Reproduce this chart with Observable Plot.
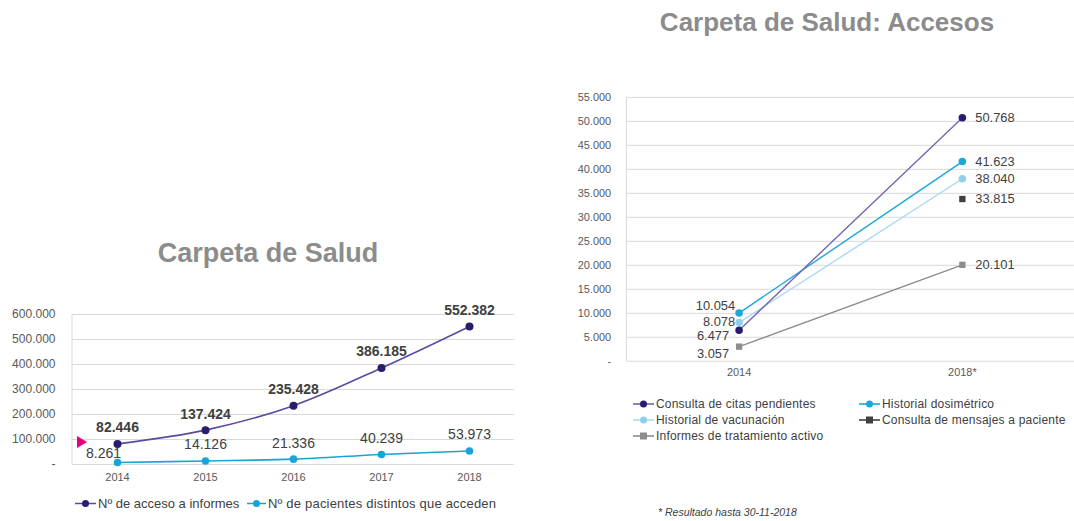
<!DOCTYPE html>
<html>
<head>
<meta charset="utf-8">
<script src="https://cdn.jsdelivr.net/npm/d3@7"></script>
<script src="https://cdn.jsdelivr.net/npm/@observablehq/plot@0.6"></script>
<style>
  html, body { margin: 0; padding: 0; background: #fff; }
  #page { position: relative; width: 1074px; height: 521px; overflow: hidden; font-family: "Liberation Sans", Arial, sans-serif; background: #fff; }
  .title { position: absolute; font-weight: bold; color: #8c8c8c; white-space: nowrap; transform: translate(-50%, -50%); }
  .chart { position: absolute; }
  .legend-item { position: absolute; display: flex; align-items: center; white-space: nowrap; color: #404040; transform: translateY(-50%); }
  .legend-item svg { display: block; margin-right: 2px; }
  #foot { position: absolute; left: 658px; top: 512px; transform: translateY(-50%); font-style: italic; font-size: 10.5px; color: #404040; white-space: nowrap; }
  #pink { position: absolute; left: 77px; top: 436px; width: 0; height: 0; border-top: 6px solid transparent; border-bottom: 6px solid transparent; border-left: 10px solid #e6007e; }
</style>
</head>
<body>
<div id="page">
  <div class="title" style="left:268px; top:253px; font-size:27px;">Carpeta de Salud</div>
  <div class="title" style="left:827px; top:22px; font-size:26px;">Carpeta de Salud: Accesos</div>
  <div id="left" class="chart" style="left:0px; top:300px;"></div>
  <div id="right" class="chart" style="left:560px; top:80px;"></div>
  <div id="pink"></div>
  <div id="legendLeft"></div>
  <div id="legendRight"></div>
  <div id="foot">* Resultado hasta 30-11-2018</div>
</div>
<script>
// ---------- DATA ----------
// Left chart: Carpeta de Salud
const years = ["2014", "2015", "2016", "2017", "2018"];
const accesosInformes = [82446, 137424, 235428, 386185, 552382];
const pacientesDistintos = [8261, 14126, 21336, 40239, 53973];
const leftSeriesNames = ["Nº de acceso a informes", "Nº de pacientes distintos que acceden"];
const leftYTicks = [0, 100000, 200000, 300000, 400000, 500000, 600000];

// Right chart: Carpeta de Salud: Accesos
const periods = ["2014", "2018*"];
const citasPendientes = [6477, 50768];
const historialDosimetrico = [10054, 41623];
const historialVacunacion = [8078, 38040];
const mensajesPaciente = [null, 33815];
const tratamientoActivo = [3057, 20101];
const rightSeriesNames = ["Consulta de citas pendientes", "Historial dosimétrico", "Historial de vacunación", "Consulta de mensajes a paciente", "Informes de tratamiento activo"];
const rightYTicks = [0, 5000, 10000, 15000, 20000, 25000, 30000, 35000, 40000, 45000, 50000, 55000];

// ---------- HELPERS ----------
const locale = d3.formatLocale({decimal: ",", thousands: ".", grouping: [3], currency: ["", ""]});
const fmt = locale.format(",d");
const tickFmt = d => d === 0 ? "-" : fmt(d);
const rows = (cats, vals) => cats.map((c, i) => ({cat: c, value: vals[i], idx: i})).filter(d => d.value != null);

const FONT = "'Liberation Sans', Arial, sans-serif";
const GRID = "#d9d9d9";

function leftRule() {
  return (index, scales, values, dims) => {
    const l = d3.create("svg:line")
      .attr("x1", dims.marginLeft).attr("x2", dims.marginLeft)
      .attr("y1", dims.marginTop).attr("y2", dims.height - dims.marginBottom)
      .attr("stroke", GRID);
    return l.node();
  };
}

// ---------- LEFT CHART ----------
const informes = rows(years, accesosInformes);
const pacientes = rows(years, pacientesDistintos);
const cPurpleLine = "#5b4b9f", cPurpleDot = "#2a1b6c", cCyan = "#1aa3d6";

const left = Plot.plot({
  width: 540, height: 190,
  marginTop: 14, marginBottom: 26, marginLeft: 72, marginRight: 26,
  x: {type: "point", domain: years, padding: 0.5, label: null},
  y: {domain: [0, 600000], label: null},
  style: {fontFamily: FONT, fontSize: "11px", color: "#595959", background: "transparent", overflow: "visible"},
  marks: [
    Plot.gridY(leftYTicks, {stroke: GRID, strokeOpacity: 1}),
    leftRule(),
    Plot.axisY(leftYTicks, {tickFormat: tickFmt, tickSize: 0, tickPadding: 17, fontSize: 12, fill: "#595959"}),
    Plot.axisX({tickSize: 0, tickPadding: 9, fontSize: 11, fill: "#595959"}),
    Plot.line(pacientes, {x: "cat", y: "value", stroke: cCyan, strokeWidth: 1.6, curve: "catmull-rom"}),
    Plot.dot(pacientes, {x: "cat", y: "value", r: 3.8, fill: cCyan}),
    Plot.line(informes, {x: "cat", y: "value", stroke: cPurpleLine, strokeWidth: 1.6, curve: "catmull-rom"}),
    Plot.dot(informes, {x: "cat", y: "value", r: 4, fill: cPurpleDot}),
    Plot.text(informes, {x: "cat", y: "value", text: d => fmt(d.value), dy: -16, fontSize: 14, fontWeight: "bold", fill: "#404040"}),
    Plot.text(pacientes, {filter: d => d.idx > 0, x: "cat", y: "value", text: d => fmt(d.value), dy: -16, fontSize: 14, fill: "#404040"}),
    Plot.text(pacientes, {filter: d => d.idx === 0, x: "cat", y: "value", text: d => fmt(d.value), dy: -9, dx: -14, fontSize: 14, fill: "#404040"})
  ]
});
document.getElementById("left").appendChild(left);

// ---------- RIGHT CHART ----------
const series = [
  {name: rightSeriesNames[4], data: rows(periods, tratamientoActivo), line: "#8c8c8c", dot: "#8c8c8c", symbol: "square", dy2014: 7, dx2014: -10},
  {name: rightSeriesNames[3], data: rows(periods, mensajesPaciente), line: "#404040", dot: "#404040", symbol: "square", dy2014: 0, dx2014: -10},
  {name: rightSeriesNames[2], data: rows(periods, historialVacunacion), line: "#a9d9ef", dot: "#8fd0ec", symbol: "circle", dy2014: -1, dx2014: -4},
  {name: rightSeriesNames[1], data: rows(periods, historialDosimetrico), line: "#1aa7da", dot: "#1aa7da", symbol: "circle", dy2014: -7, dx2014: -4},
  {name: rightSeriesNames[0], data: rows(periods, citasPendientes), line: "#7565b5", dot: "#2a1b70", symbol: "circle", dy2014: 6, dx2014: -10}
];

const rightMarks = [
  Plot.gridY(rightYTicks, {stroke: GRID, strokeOpacity: 1}),
  leftRule(),
  Plot.axisY(rightYTicks, {tickFormat: tickFmt, tickSize: 0, tickPadding: 16, fontSize: 11, fill: "#595959"}),
  Plot.axisX({tickSize: 0, tickPadding: 7, fontSize: 11, fill: "#595959"})
];
for (const s of series) {
  if (s.data.length > 1) rightMarks.push(Plot.line(s.data, {x: "cat", y: "value", stroke: s.line, strokeWidth: 1.4}));
  if (s.symbol === "square") {
    rightMarks.push(Plot.dot(s.data, {x: "cat", y: "value", symbol: "square", r: 3.6, fill: s.dot}));
  } else {
    rightMarks.push(Plot.dot(s.data, {x: "cat", y: "value", r: 3.8, fill: s.dot}));
  }
}
for (const s of series) {
  rightMarks.push(Plot.text(s.data, {filter: d => d.cat === periods[0], x: "cat", y: "value", text: d => fmt(d.value), textAnchor: "end", dx: s.dx2014, dy: s.dy2014, fontSize: 13, fill: "#404040"}));
  rightMarks.push(Plot.text(s.data, {filter: d => d.cat === periods[1], x: "cat", y: "value", text: d => fmt(d.value), textAnchor: "start", dx: 13, fontSize: 13, fill: "#404040"}));
}

const right = Plot.plot({
  width: 518, height: 305,
  marginTop: 17, marginBottom: 22, marginLeft: 67, marginRight: 0,
  x: {type: "point", domain: periods, padding: 0.5, label: null},
  y: {domain: [0, 55000], label: null},
  style: {fontFamily: FONT, fontSize: "11px", color: "#595959", background: "transparent", overflow: "visible"},
  marks: rightMarks
});
document.getElementById("right").appendChild(right);

// ---------- LEGENDS ----------
function swatch(lineColor, dotColor, symbol, w) {
  const marker = symbol === "square"
    ? `<rect x="${w/2-3.5}" y="3.5" width="7" height="7" fill="${dotColor}"/>`
    : `<circle cx="${w/2}" cy="7" r="3.5" fill="${dotColor}"/>`;
  return `<svg width="${w}" height="14"><line x1="0" x2="${w}" y1="7" y2="7" stroke="${lineColor}" stroke-width="1.6"/>${marker}</svg>`;
}
function addLegend(containerId, items) {
  const c = document.getElementById(containerId);
  for (const it of items) {
    const d = document.createElement("div");
    d.className = "legend-item";
    d.style.left = it.x + "px";
    d.style.top = it.y + "px";
    d.style.fontSize = it.fontSize + "px";
    if (it.spacing) d.style.letterSpacing = it.spacing + "px";
    d.innerHTML = swatch(it.line, it.dot, it.symbol, it.w) + `<span>${it.name}</span>`;
    c.appendChild(d);
  }
}
addLegend("legendLeft", [
  {name: leftSeriesNames[0], x: 75, y: 503, line: cPurpleLine, dot: cPurpleDot, symbol: "circle", w: 21, fontSize: 13},
  {name: leftSeriesNames[1], x: 247, y: 503, line: cCyan, dot: cCyan, symbol: "circle", w: 19, fontSize: 13, spacing: 0.2}
]);
const byName = Object.fromEntries(series.map(s => [s.name, s]));
const rl = (name, x, y) => ({name, x, y, line: byName[name].line, dot: byName[name].dot, symbol: byName[name].symbol, w: 21, fontSize: 12, spacing: 0.2});
addLegend("legendRight", [
  rl(rightSeriesNames[0], 633, 404),
  rl(rightSeriesNames[1], 859, 404),
  rl(rightSeriesNames[2], 633, 420),
  rl(rightSeriesNames[3], 859, 420),
  rl(rightSeriesNames[4], 633, 436)
]);
</script>
</body>
</html>
